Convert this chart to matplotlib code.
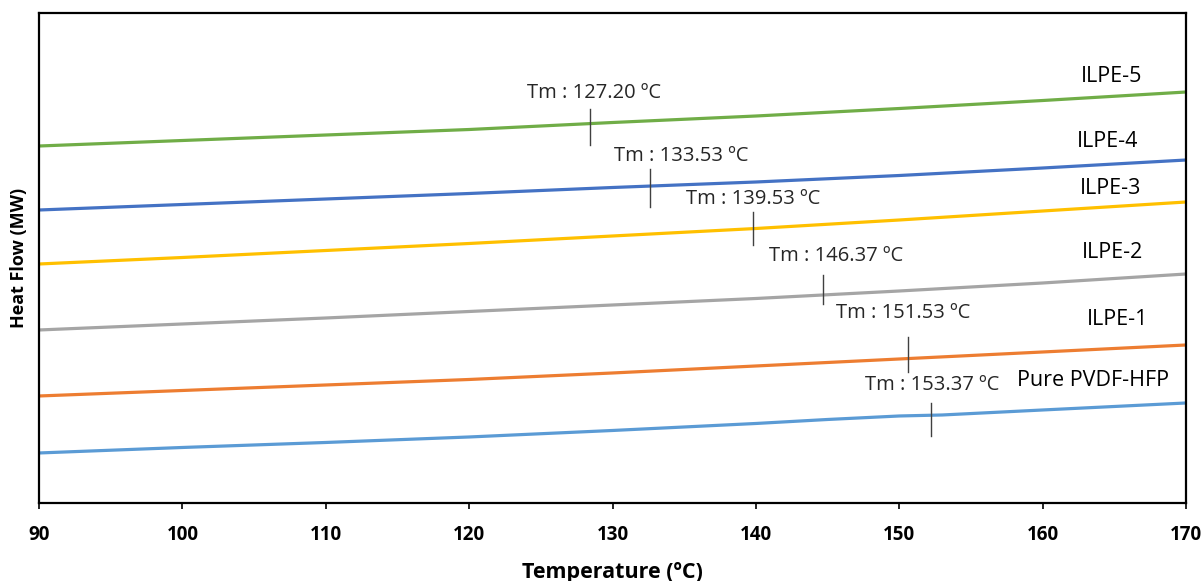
import numpy as np
import matplotlib.pyplot as plt

plt.rcParams['font.family'] = ['Open Sans', 'DejaVu Sans']

# temperature grid (ºC)
temp = [90, 100, 110, 120, 130, 140, 150, 160, 170]
temp_pure = [90, 100, 110, 120, 130, 140, 145, 150, 153, 160, 170]

# heat flow curves (arbitrary offset units)
ilpe5 = [35.7, 36.25, 36.8, 37.35, 38.05, 38.7, 39.45, 40.25, 41.1]
ilpe4 = [29.3, 29.85, 30.4, 30.95, 31.55, 32.1, 32.75, 33.5, 34.3]
ilpe3 = [23.9, 24.55, 25.25, 25.95, 26.7, 27.45, 28.3, 29.2, 30.1]
ilpe2 = [17.3, 17.9, 18.5, 19.15, 19.8, 20.45, 21.2, 22.0, 22.9]
ilpe1 = [10.7, 11.25, 11.8, 12.35, 13.0, 13.7, 14.4, 15.1, 15.8]
pure = [5.0, 5.55, 6.05, 6.6, 7.25, 7.95, 8.35, 8.7, 8.8, 9.3, 10.0]

names = ["ILPE-5", "ILPE-4", "ILPE-3", "ILPE-2", "ILPE-1", "Pure PVDF-HFP"]
colors = ["#70AD47", "#4472C4", "#FFC000", "#A5A5A5", "#ED7D31", "#5B9BD5"]

# melting point labels and where the marker ticks sit
tm_text = ["127.20", "133.53", "139.53", "146.37", "151.53", "153.37"]
tm_x = [128.4, 132.6, 139.8, 144.7, 150.6, 152.2]
tm_lo = [35.8, 29.6, 25.8, 19.9, 13.1, 6.7]
tm_hi = [39.4, 33.4, 29.1, 22.8, 16.6, 10.0]

fig = plt.figure(figsize=(12.04, 5.81), dpi=100)
ax = fig.add_axes([0.0324, 0.1343, 0.9527, 0.8433])

series = [(temp, ilpe5), (temp, ilpe4), (temp, ilpe3), (temp, ilpe2), (temp, ilpe1), (temp_pure, pure)]
for (x, y), c in zip(series, colors):
    ax.plot(x, y, color=c, lw=2.3, solid_capstyle='butt')

# Tm markers and labels
txt_x = [128.7, 134.8, 139.8, 145.6, 150.3, 152.3]
txt_y = [41.0, 34.7, 30.4, 24.7, 19.0, 11.8]
for i in range(len(tm_text)):
    ax.plot([tm_x[i], tm_x[i]], [tm_lo[i], tm_hi[i]], color="#404040", lw=1)
    ax.text(txt_x[i], txt_y[i], "Tm : " + tm_text[i] + " ºC", fontsize=14.5,
            color="#262626", ha='center', va='center')

# series names on the right
name_x = [164.8, 164.5, 164.7, 164.9, 165.2, 163.5]
name_y = [42.7, 36.2, 31.4, 25.0, 18.3, 12.2]
for n, x, y in zip(names, name_x, name_y):
    ax.text(x, y, n, fontsize=15.5, color="#000000", ha='center', va='center')

ax.set_xlim(90, 170)
ax.set_ylim(0, 49)
ax.set_xticks(np.arange(90, 171, 10))
ax.set_yticks([])
ax.tick_params(axis='x', direction='out', length=4, width=1.2, pad=12, labelsize=13.5)
for lbl in ax.get_xticklabels():
    lbl.set_fontweight('bold')
for s in ax.spines.values():
    s.set_linewidth(1.6)
    s.set_color('black')

ax.set_xlabel("Temperature (ºC)", fontsize=15.5, fontweight='bold', labelpad=12)
ax.set_ylabel("Heat Flow (MW)", fontsize=13, fontweight='bold', labelpad=8)

plt.savefig("out.png", dpi=100)
